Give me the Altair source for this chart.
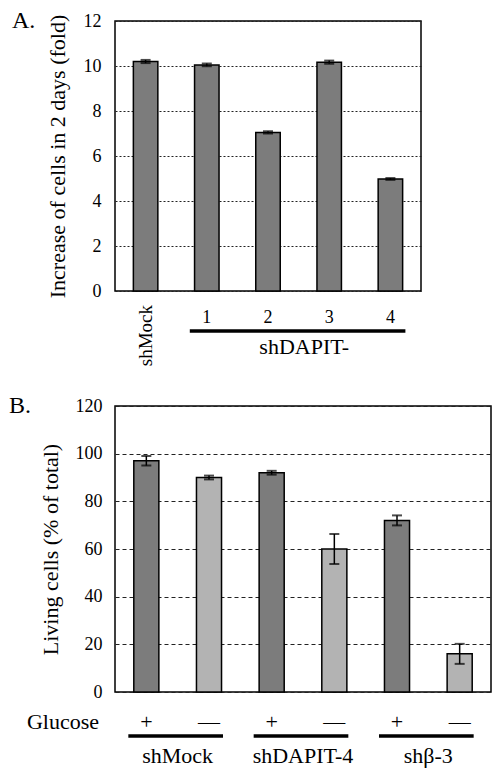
import altair as alt
import pandas as pd

# ---------------- Panel A data ----------------
a_groups = ["shMock", "1", "2", "3", "4"]
a_values = [10.2, 10.05, 7.05, 10.17, 4.98]
a_errors = [0.07, 0.06, 0.05, 0.07, 0.04]
a_yticks = [0, 2, 4, 6, 8, 10, 12]
a_ytitle = "Increase of cells in 2 days (fold)"
a_series = "shDAPIT-"
a_panel = "A."

# ---------------- Panel B data ----------------
b_keys = ["shMock +", "shMock -", "shDAPIT-4 +", "shDAPIT-4 -", "shβ-3 +", "shβ-3 -"]
b_lines = ["shMock", "shMock", "shDAPIT-4", "shDAPIT-4", "shβ-3", "shβ-3"]
b_glucose = ["+", "—", "+", "—", "+", "—"]
b_values = [97, 90, 92, 60, 72, 16]
b_errors = [2.0, 0.8, 0.8, 6.3, 2.1, 4.2]
b_yticks = [0, 20, 40, 60, 80, 100, 120]
b_ytitle = "Living cells (% of total)"
b_rowlabel = "Glucose"
b_panel = "B."

FONT = "Liberation Serif"
DARK = "#7c7c7c"
LIGHT = "#b3b3b3"

# ---------------- Panel A ----------------
WA, HA = 306, 270
dfa = pd.DataFrame({"grp": a_groups, "val": a_values, "err": a_errors})
dfa["lo"] = dfa["val"] - dfa["err"]
dfa["hi"] = dfa["val"] + dfa["err"]

xa_scale = alt.Scale(domain=a_groups, paddingInner=0.6, paddingOuter=0.3)
ya_scale = alt.Scale(domain=[0, 12], nice=False)
ya_axis = alt.Axis(values=a_yticks, title=a_ytitle, grid=True, gridDash=[2, 2],
                   gridColor="#222222", gridWidth=1, domain=False, ticks=False,
                   labelFont=FONT, labelFontSize=18, labelPadding=14, labelColor="black",
                   titleFont=FONT, titleFontSize=22, titleFontWeight="normal",
                   titleColor="black", titleX=-58, titleY=HA / 2, titleAngle=270,
                   titleBaseline="middle", titleAlign="center")

def xa(field="grp"):
    return alt.X(f"{field}:N", scale=xa_scale, axis=None)

def ya(field):
    return alt.Y(f"{field}:Q", scale=ya_scale, axis=ya_axis)

base_a = alt.Chart(dfa)
bars_a = base_a.mark_bar(color=DARK, stroke="black", strokeWidth=1.5).encode(x=xa(), y=ya("val"))
rule_a = base_a.mark_rule(color="black", strokeWidth=1.5).encode(x=xa(), y=ya("lo"), y2="hi:Q")
cap_lo_a = base_a.mark_tick(color="black", size=10, thickness=2).encode(x=xa(), y=ya("lo"))
cap_hi_a = base_a.mark_tick(color="black", size=10, thickness=2).encode(x=xa(), y=ya("hi"))

nums_a = base_a.transform_filter(alt.datum.grp != a_groups[0]).mark_text(
    font=FONT, fontSize=18, baseline="alphabetic", align="center", color="black"
).encode(x=xa(), y=alt.value(HA + 32), text="grp:N")
mock_a = base_a.transform_filter(alt.datum.grp == a_groups[0]).mark_text(
    font=FONT, fontSize=19, baseline="middle", align="right", angle=270, color="black"
).encode(x=xa(), y=alt.value(HA + 14), text="grp:N")

line_a_df = pd.DataFrame({"start": [a_groups[1]], "end": [a_groups[-1]], "name": [a_series]})
line_a = alt.Chart(line_a_df).mark_rule(color="black", strokeWidth=3.5, xOffset=-17, x2Offset=15).encode(
    x=xa("start"), x2="end:N", y=alt.value(HA + 40))
series_a = alt.Chart(line_a_df).transform_calculate(mid="'3'").mark_text(
    font=FONT, fontSize=22, baseline="alphabetic", align="center", color="black", xOffset=-25
).encode(x=xa("mid"), y=alt.value(HA + 63), text="name:N")

panel_a = alt.Chart(pd.DataFrame({"t": [a_panel]})).mark_text(
    font=FONT, fontSize=24, baseline="alphabetic", align="left", color="black"
).encode(x=alt.value(-103), y=alt.value(7), text="t:N")

chart_a = alt.layer(bars_a, rule_a, cap_lo_a, cap_hi_a, nums_a, mock_a, line_a, series_a, panel_a).properties(
    width=WA, height=HA)

# ---------------- Panel B ----------------
WB, HB = 376, 286
stepB = WB / 6
dfb = pd.DataFrame({"key": b_keys, "line": b_lines, "glu": b_glucose, "val": b_values, "err": b_errors})
dfb["lo"] = dfb["val"] - dfb["err"]
dfb["hi"] = dfb["val"] + dfb["err"]

xb_scale = alt.Scale(domain=b_keys, paddingInner=0.6, paddingOuter=0.3)
yb_scale = alt.Scale(domain=[0, 120], nice=False)
yb_axis = alt.Axis(values=b_yticks, title=b_ytitle, grid=True, gridDash=[4, 3],
                   gridColor="#222222", gridWidth=1, domain=False, ticks=False,
                   labelFont=FONT, labelFontSize=18, labelPadding=13, labelColor="black",
                   titleFont=FONT, titleFontSize=22, titleFontWeight="normal",
                   titleColor="black", titleX=-65, titleY=HB / 2, titleAngle=270,
                   titleBaseline="middle", titleAlign="center")

def xb(field="key"):
    return alt.X(f"{field}:N", scale=xb_scale, axis=None)

def yb(field):
    return alt.Y(f"{field}:Q", scale=yb_scale, axis=yb_axis)

base_b = alt.Chart(dfb)
bars_b = base_b.mark_bar(stroke="black", strokeWidth=1.5).encode(
    x=xb(), y=yb("val"),
    color=alt.Color("glu:N", scale=alt.Scale(domain=["+", "—"], range=[DARK, LIGHT]), legend=None))
rule_b = base_b.mark_rule(color="black", strokeWidth=1.5).encode(x=xb(), y=yb("lo"), y2="hi:Q")
cap_lo_b = base_b.mark_tick(color="black", size=10, thickness=2).encode(x=xb(), y=yb("lo"))
cap_hi_b = base_b.mark_tick(color="black", size=10, thickness=2).encode(x=xb(), y=yb("hi"))

glu_b = base_b.mark_text(font=FONT, fontSize=22, baseline="alphabetic", align="center", color="black").encode(
    x=xb(), y=alt.value(HB + 37), text="glu:N")
row_b = alt.Chart(pd.DataFrame({"t": [b_rowlabel]})).mark_text(
    font=FONT, fontSize=22, baseline="alphabetic", align="right", color="black"
).encode(x=alt.value(-16), y=alt.value(HB + 37), text="t:N")

line_b_df = pd.DataFrame({"start": b_keys[0::2], "end": b_keys[1::2], "name": b_lines[0::2]})
line_b = alt.Chart(line_b_df).mark_rule(color="black", strokeWidth=3.5, xOffset=-18, x2Offset=14).encode(
    x=xb("start"), x2="end:N", y=alt.value(HB + 44))
names_b = alt.Chart(line_b_df).mark_text(
    font=FONT, fontSize=22, baseline="alphabetic", align="center", color="black", xOffset=stepB / 2
).encode(x=xb("start"), y=alt.value(HB + 71), text="name:N")

panel_b = alt.Chart(pd.DataFrame({"t": [b_panel]})).mark_text(
    font=FONT, fontSize=24, baseline="alphabetic", align="left", color="black"
).encode(x=alt.value(-106), y=alt.value(7), text="t:N")

chart_b = alt.layer(bars_b, rule_b, cap_lo_b, cap_hi_b, glu_b, row_b, line_b, names_b, panel_b).properties(
    width=WB, height=HB)

chart = alt.concat(chart_a, chart_b, columns=1, spacing=26, align="none").properties(
    padding={"left": 0, "top": 0, "right": 0, "bottom": 0}
).configure_view(stroke="black", strokeWidth=1.5)

chart.save("out.html", embed_options={"renderer": "svg", "actions": False})
